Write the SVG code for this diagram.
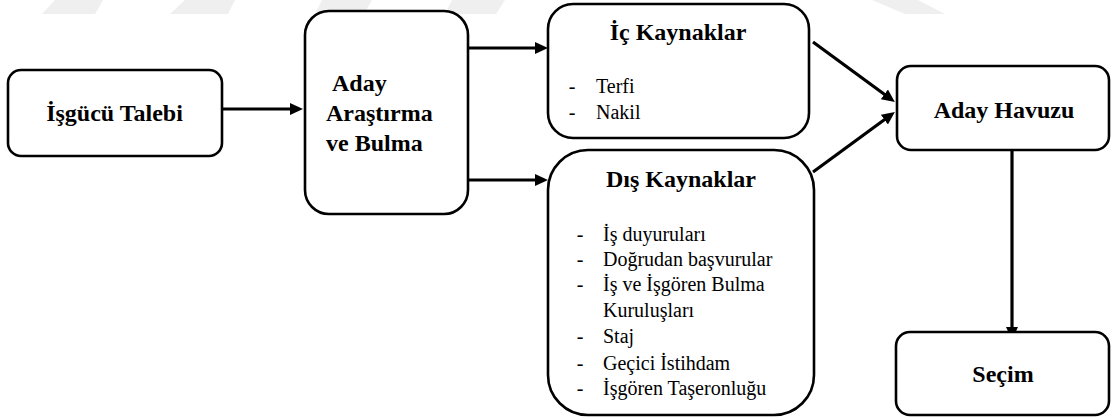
<svg xmlns="http://www.w3.org/2000/svg" width="1112" height="418" viewBox="0 0 1112 418">
<style>
.box{fill:#fff;stroke:#000;stroke-width:2.6}
.b{font-weight:bold;font-size:24px}
.r{font-size:20px}
.c{text-anchor:middle}
.edge{stroke:#000;stroke-width:3.2;fill:none}
.wm{fill:#efefef}
</style>
<defs>
<marker id="ah" markerUnits="userSpaceOnUse" markerWidth="14" markerHeight="12" refX="2" refY="6" orient="auto">
<path d="M0,0 L13,6 L0,12 z" fill="#000"/>
</marker>
</defs>
<rect width="1112" height="418" fill="#fff"/>
<g id="watermark">
<polygon class="wm" points="55,0 103,0 95,14 42,14"/>
<polygon class="wm" points="185,0 235,0 228,14 170,14"/>
<polygon class="wm" points="322,0 372,0 364,14 315,14"/>
<polygon class="wm" points="452,0 505,0 496,14 445,14"/>
<polygon class="wm" points="872,0 918,0 945,14 905,14"/>
</g>
<g id="connectors">
<line class="edge" x1="222" y1="109" x2="292" y2="109" marker-end="url(#ah)"/>
<line class="edge" x1="468" y1="48" x2="537" y2="48" marker-end="url(#ah)"/>
<line class="edge" x1="468" y1="180" x2="537" y2="180" marker-end="url(#ah)"/>
<line class="edge" x1="813" y1="42" x2="886" y2="95.5" marker-end="url(#ah)"/>
<line class="edge" x1="813" y1="172" x2="886" y2="118.5" marker-end="url(#ah)"/>
<line class="edge" x1="1012" y1="151" x2="1012" y2="329" marker-end="url(#ah)"/>
</g>
<g id="isgucu-talebi" font-family="Liberation Serif">
<rect class="box" x="8" y="70" width="214" height="86" rx="13"/>
<text class="b c" x="114.5" y="121">İşgücü Talebi</text>
</g>
<g id="aday-arastirma" font-family="Liberation Serif">
<rect class="box" x="305" y="11" width="163" height="203" rx="24"/>
<text class="b" x="332" y="91">Aday</text>
<text class="b" x="326" y="121">Araştırma</text>
<text class="b" x="326" y="151">ve Bulma</text>
</g>
<g id="ic-kaynaklar" font-family="Liberation Serif">
<rect class="box" x="548" y="4" width="261" height="134" rx="25"/>
<text class="b c" x="678" y="40">İç Kaynaklar</text>
<text class="r c" x="572" y="93">-</text>
<text class="r" x="596" y="93">Terfi</text>
<text class="r c" x="572" y="119">-</text>
<text class="r" x="596" y="119">Nakil</text>
</g>
<g id="dis-kaynaklar" font-family="Liberation Serif">
<rect class="box" x="548" y="150" width="266" height="265" rx="40"/>
<text class="b c" x="681" y="187">Dış Kaynaklar</text>
<text class="r c" x="580" y="241">-</text>
<text class="r" x="603" y="241">İş duyuruları</text>
<text class="r c" x="580" y="266">-</text>
<text class="r" x="603" y="266">Doğrudan başvurular</text>
<text class="r c" x="580" y="291">-</text>
<text class="r" x="603" y="291">İş ve İşgören Bulma</text>
<text class="r" x="603" y="317">Kuruluşları</text>
<text class="r c" x="580" y="343">-</text>
<text class="r" x="603" y="343">Staj</text>
<text class="r c" x="580" y="370">-</text>
<text class="r" x="603" y="370">Geçici İstihdam</text>
<text class="r c" x="580" y="395">-</text>
<text class="r" x="603" y="395">İşgören Taşeronluğu</text>
</g>
<g id="aday-havuzu" font-family="Liberation Serif">
<rect class="box" x="897" y="66" width="212" height="84" rx="14"/>
<text class="b c" x="1004" y="118">Aday Havuzu</text>
</g>
<g id="secim" font-family="Liberation Serif">
<rect class="box" x="896" y="332" width="213" height="83" rx="14"/>
<text class="b c" x="1003" y="382">Seçim</text>
</g>
</svg>
